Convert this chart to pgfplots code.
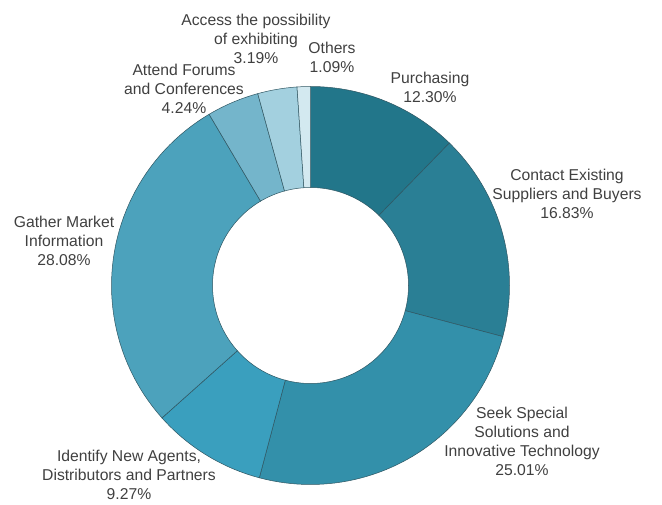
\documentclass[border=0pt]{standalone}
\usepackage{pgfplots}
\pgfplotsset{compat=1.18}
\usepackage{fontspec}
\setmainfont{Liberation Sans}
\definecolor{cA}{HTML}{22768A}
\definecolor{cB}{HTML}{2A7F95}
\definecolor{cC}{HTML}{3390AA}
\definecolor{cD}{HTML}{3A9FBE}
\definecolor{cE}{HTML}{4CA2BC}
\definecolor{cF}{HTML}{74B5CB}
\definecolor{cG}{HTML}{A3D0DF}
\definecolor{cH}{HTML}{D3E9F0}
\definecolor{edgec}{HTML}{2F5662}
\definecolor{textc}{HTML}{404040}
% #1 = cumulative share before the slice (%), #2 = share (%), #3 = colour
\newcommand{\donutslice}[3]{%
  \addplot[fill=#3, draw=edgec, line width=0.5pt, samples at={0,1,...,99}, variable=\k]
   ({310.5+((\k<50)?199:98)*cos(90-3.6*(#1+((\k<50)?(#2*\k/49):(#2*(99-\k)/49))))},
    {218.5+((\k<50)?199:98)*sin(90-3.6*(#1+((\k<50)?(#2*\k/49):(#2*(99-\k)/49))))}) -- cycle;
}
\begin{document}
\begin{tikzpicture}[lbl/.style={align=center, inner sep=0pt, text=textc, font=\fontsize{15.7}{19}\selectfont}]
\begin{axis}[x=1pt, y=1pt, xmin=0, xmax=662, ymin=0, ymax=504,
  hide axis, clip=false, scale only axis]
\path (axis cs:0,0) rectangle (axis cs:662,504);
\donutslice{0}{12.30}{cA}
\donutslice{12.30}{16.83}{cB}
\donutslice{29.13}{25.01}{cC}
\donutslice{54.14}{9.27}{cD}
\donutslice{63.41}{28.08}{cE}
\donutslice{91.49}{4.24}{cF}
\donutslice{95.73}{3.19}{cG}
\donutslice{98.92}{1.09}{cH}
\node[lbl] at (axis cs:430,416.5) {Purchasing\\12.30\%};
\node[lbl] at (axis cs:567,310) {Contact Existing\\Suppliers and Buyers\\16.83\%};
\node[lbl] at (axis cs:522,63) {Seek Special\\Solutions and\\Innovative Technology\\25.01\%};
\node[lbl] at (axis cs:129,29) {Identify New Agents,\\Distributors and Partners\\9.27\%};
\node[lbl] at (axis cs:64,263) {Gather Market\\Information\\28.08\%};
\node[lbl] at (axis cs:184,415) {Attend Forums\\and Conferences\\4.24\%};
\node[lbl] at (axis cs:256,465) {Access the possibility\\of exhibiting\\3.19\%};
\node[lbl] at (axis cs:332,447) {Others\\1.09\%};
\end{axis}
\end{tikzpicture}
\end{document}
